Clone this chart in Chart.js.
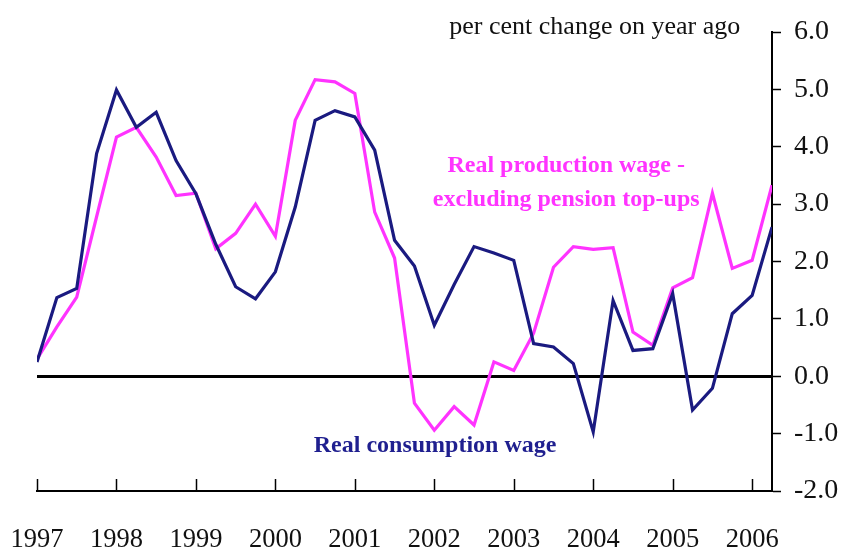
<!DOCTYPE html>
<html>
<head>
<meta charset="utf-8">
<script src="https://cdn.jsdelivr.net/npm/chart.js@4"></script>
<style>
    html, body { margin: 0; padding: 0; background: #fff; }
    #wrap { width: 844px; height: 551px; }
</style>
</head>
<body>
<div id="wrap"><canvas id="wages" width="844" height="551"></canvas></div>
<script>
// -----------------------------
// Data (quarterly, 1997 Q1 - 2006 Q2)
// -----------------------------
const quarters = [];
for (let y = 1997; y <= 2006; y++) {
    for (let q = 0; q < 4; q++) quarters.push(y + q / 4);
}
quarters.length = 38;

const consumptionWage = [0.25, 1.37, 1.53, 3.88, 4.99, 4.34, 4.60, 3.76, 3.18, 2.30,
    1.56, 1.35, 1.82, 2.95, 4.46, 4.63, 4.52, 3.94, 2.37, 1.92,
    0.89, 1.60, 2.26, 2.15, 2.02, 0.57, 0.51, 0.22, -0.97, 1.32,
    0.45, 0.48, 1.44, -0.59, -0.21, 1.09, 1.41, 2.60];

const productionWage = [0.30, 0.86, 1.38, 2.78, 4.17, 4.34, 3.82, 3.15, 3.19, 2.22,
    2.49, 3.00, 2.44, 4.46, 5.17, 5.13, 4.93, 2.86, 2.06, -0.47,
    -0.94, -0.53, -0.85, 0.25, 0.10, 0.75, 1.90, 2.26, 2.21, 2.24,
    0.77, 0.54, 1.54, 1.72, 3.19, 1.88, 2.02, 3.33];

const yearTicks = [1997, 1998, 1999, 2000, 2001, 2002, 2003, 2004, 2005, 2006];
const yTicks = [-2, -1, 0, 1, 2, 3, 4, 5, 6];

// -----------------------------
// Colors / fonts
// -----------------------------
const navy = '#1a1a80';
const pink = '#ff33ff';
const serif = '"Liberation Serif", "Times New Roman", serif';

// -----------------------------
// Plugin: inward x ticks + text labels
// -----------------------------
const decorations = {
    id: 'decorations',
    afterDraw(chart) {
        const ctx = chart.ctx;
        const xs = chart.scales.x;
        const ys = chart.scales.y;
        const bottom = chart.chartArea.bottom;

        ctx.save();
        ctx.strokeStyle = '#000';
        ctx.lineWidth = 1.5;
        yearTicks.forEach(v => {
            const px = Math.round(xs.getPixelForValue(v)) + 0.5;
            ctx.beginPath();
            ctx.moveTo(px, bottom);
            ctx.lineTo(px, bottom - 12);
            ctx.stroke();
        });

        ctx.textBaseline = 'middle';
        ctx.fillStyle = '#111';
        ctx.font = '26px ' + serif;
        ctx.textAlign = 'right';
        ctx.fillText('per cent change on year ago', xs.getPixelForValue(2005.85), ys.getPixelForValue(6.08));

        ctx.textAlign = 'center';
        ctx.font = 'bold 24px ' + serif;
        ctx.fillStyle = pink;
        ctx.fillText('Real production wage -', xs.getPixelForValue(2003.66), ys.getPixelForValue(3.66));
        ctx.fillText('excluding pension top-ups', xs.getPixelForValue(2003.66), ys.getPixelForValue(3.07));

        ctx.fillStyle = '#1f1f8f';
        ctx.fillText('Real consumption wage', xs.getPixelForValue(2002.01), ys.getPixelForValue(-1.22));
        ctx.restore();
    }
};

// -----------------------------
// Line chart
// -----------------------------
new Chart(document.getElementById('wages'), {
    type: 'line',
    data: {
        datasets: [{
            label: 'Real consumption wage',
            data: quarters.map((q, i) => ({x: q, y: consumptionWage[i]})),
            borderColor: navy,
            borderWidth: 3.2,
            pointRadius: 0,
            tension: 0
        }, {
            label: 'Real production wage - excluding pension top-ups',
            data: quarters.map((q, i) => ({x: q, y: productionWage[i]})),
            borderColor: pink,
            borderWidth: 3.2,
            pointRadius: 0,
            tension: 0
        }]
    },
    options: {
        responsive: false,
        animation: false,
        layout: {padding: {left: 37, top: 32, right: 0, bottom: 0}},
        plugins: {
            legend: {display: false},
            tooltip: {enabled: false}
        },
        scales: {
            x: {
                type: 'linear',
                position: 'bottom',
                min: 1997,
                max: 2006.25,
                afterBuildTicks: s => { s.ticks = yearTicks.map(v => ({value: v})); },
                afterFit: s => { s.height = 60; },
                // grid hidden; tickLength only pushes the labels down
                grid: {display: false, drawTicks: true, tickLength: 31},
                border: {display: true, color: '#000', width: 2},
                ticks: {
                    padding: 2,
                    maxRotation: 0,
                    autoSkip: false,
                    color: '#111',
                    font: {family: serif, size: 26.5},
                    callback: v => String(v)
                }
            },
            y: {
                position: 'right',
                min: -2,
                max: 6,
                afterBuildTicks: s => { s.ticks = yTicks.map(v => ({value: v})); },
                afterFit: s => { s.width = 72; },
                grid: {
                    drawOnChartArea: true,
                    drawTicks: true,
                    tickLength: 9,
                    tickColor: '#000',
                    tickWidth: 1.5,
                    color: c => (c.tick && c.tick.value === 0) ? '#000' : 'rgba(0,0,0,0)',
                    lineWidth: c => (c.tick && c.tick.value === 0) ? 3 : 1
                },
                border: {display: true, color: '#000', width: 2},
                ticks: {
                    padding: 13,
                    color: '#111',
                    font: {family: serif, size: 28},
                    callback: v => v.toFixed(1)
                }
            }
        }
    },
    plugins: [decorations]
});
</script>
</body>
</html>
